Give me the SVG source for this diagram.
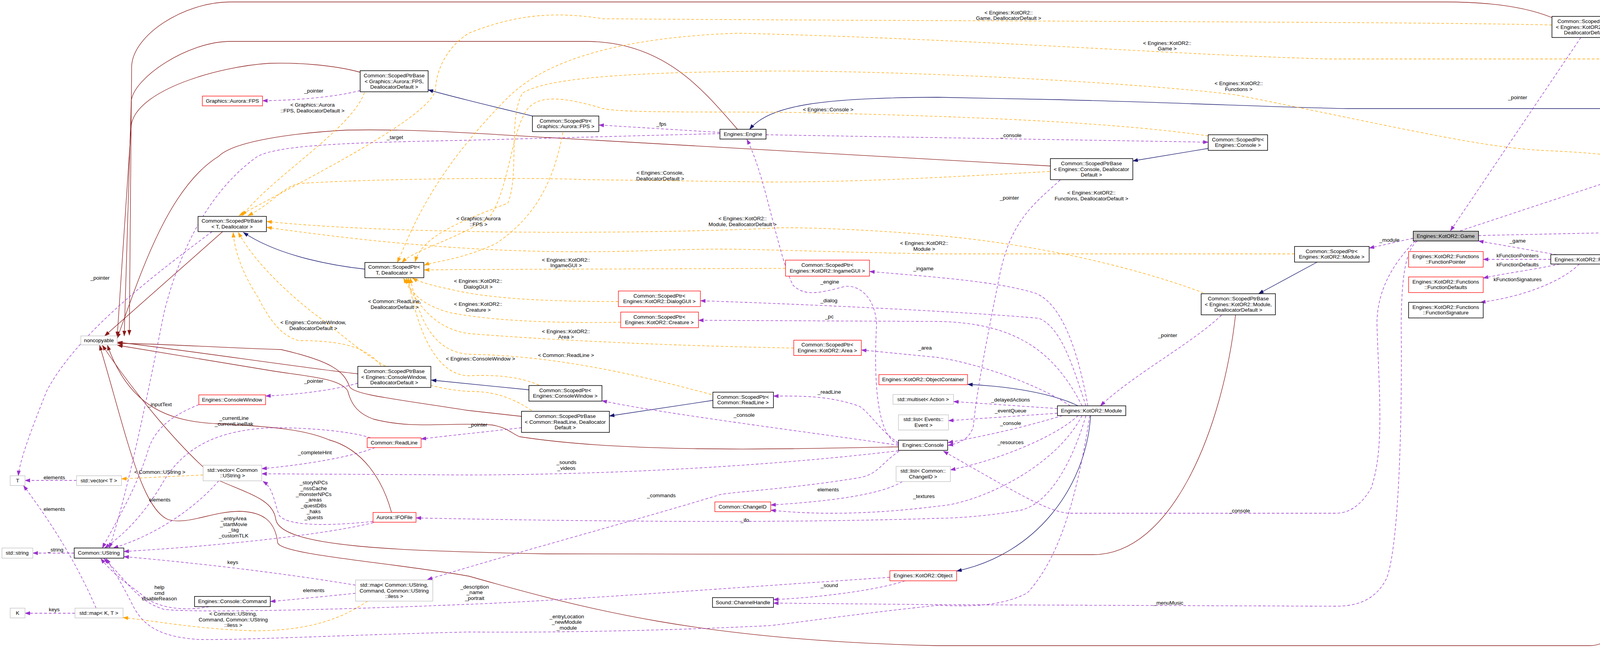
<svg xmlns="http://www.w3.org/2000/svg" width="4792" height="1659" viewBox="0 0 4792 1659">
<style>
text{font-family:"Liberation Sans",Arial,sans-serif;font-size:13.5px;fill:#000;text-anchor:middle}
.b{fill:#fff;stroke:#000;stroke-width:1.5}
.r{fill:#fff;stroke:#ff0000;stroke-width:1.3}
.g{fill:#fff;stroke:#bfbfbf;stroke-width:1.3}
.sel{fill:#bfbfbf;stroke:#000;stroke-width:1.5}
.e{fill:none;stroke-width:1.3}
.p{stroke:#9a32cd;stroke-dasharray:7,5;marker-end:url(#mp)}
.o{stroke:#ffa500;stroke-dasharray:7,5;marker-end:url(#mo)}
.n{stroke:#191970;marker-end:url(#mn)}
.d{stroke:#8b1a1a;marker-end:url(#md)}
</style>
<defs>
<marker id="mp" markerWidth="14" markerHeight="10" refX="13" refY="5" orient="auto" markerUnits="userSpaceOnUse"><path d="M0,0L14,5L0,10z" fill="#9a32cd"/></marker>
<marker id="mo" markerWidth="14" markerHeight="10" refX="13" refY="5" orient="auto" markerUnits="userSpaceOnUse"><path d="M0,0L14,5L0,10z" fill="#ffa500"/></marker>
<marker id="mn" markerWidth="14" markerHeight="10" refX="13" refY="5" orient="auto" markerUnits="userSpaceOnUse"><path d="M0,0L14,5L0,10z" fill="#191970"/></marker>
<marker id="md" markerWidth="14" markerHeight="10" refX="13" refY="5" orient="auto" markerUnits="userSpaceOnUse"><path d="M0,0L14,5L0,10z" fill="#8b1a1a"/></marker>
</defs>
<rect width="4792" height="1659" fill="#fff"/>
<g id="connectors">
<!-- inheritance navy -->
<path class="e n" d="M1363,297 C1250,270 1150,245 1096,230"/>
<path class="e n" d="M934,689 C870,682 720,660 623,595"/>
<path class="e n" d="M1354,998 L1104,973"/>
<path class="e n" d="M1825,1025 L1560,1065"/>
<path class="e n" d="M3093,380 L2900,412"/>
<path class="e n" d="M3372,671 L3222,752"/>
<path class="e n" d="M4300,131 L4157,95"/>
<path class="e n" d="M4597,603 L4481,632"/>
<path class="e n" d="M4573,278 L3450,278 C3300,276 3000,262 2700,255 L2400,249 C2100,250 1970,270 1919,331"/>
<path class="e n" d="M2760,1039 C2700,1010 2600,990 2477,984"/>
<path class="e n" d="M2792,1064 C2780,1250 2650,1420 2449,1462"/>
<!-- inheritance dark red to noncopyable -->
<path class="e d" d="M3973,45 C3900,15 3800,5 3700,5 L590,5 C470,5 340,90 337,170 L331,858"/>
<path class="e d" d="M1888,331 C1800,230 1700,106 1500,106 L590,106 C480,106 340,200 336,260 L318,860"/>
<path class="e d" d="M922,185 C850,165 750,160 690,162 C560,170 350,230 336,320 L300,862"/>
<path class="e d" d="M2689,425 L1400,352 C1200,340 1050,330 888,333 C760,340 600,360 560,400 C430,480 360,700 300,866"/>
<path class="e d" d="M570,593 L268,860"/>
<path class="e d" d="M916,957 C800,945 500,900 301,876"/>
<path class="e d" d="M1335,1066 L1200,1051 C1000,1020 905,1010 895,990 C880,950 850,925 720,895 C560,890 420,880 301,879"/>
<path class="e d" d="M2300,1144 C2000,1150 1600,1160 1330,1118 C1310,1110 1300,1095 1260,1088 C1150,1080 1060,1100 956,1073 C920,1060 900,1040 890,1000 C870,970 800,965 700,950 C550,925 400,900 301,884"/>
<path class="e d" d="M1002,1311 C980,1230 930,1150 842,1126 C780,1100 700,1092 560,1085 C430,1080 330,1040 275,884"/>
<path class="e d" d="M3163,806 C3130,1100 3000,1420 2798,1420 L1400,1418 C1000,1410 720,1400 706,1330 C700,1280 640,1265 560,1230 C460,1150 340,1000 262,884"/>
<path class="e d" d="M4356,683 C4330,1000 4250,1653 4070,1653 L2400,1653 C1800,1640 1500,1560 1200,1475 C1000,1440 720,1420 711,1390 C705,1340 680,1310 612,1309 C540,1310 480,1345 430,1330 C360,1300 320,1100 255,884"/>
<!-- template instantiation orange -->
<path class="e o" d="M3973,64 C3600,55 2500,55 1544,48 C1400,25 1300,45 1200,85 C1130,130 1115,200 1115,230 C1100,300 800,450 612,552"/>
<path class="e o" d="M4286,151 L3400,151 C3000,140 2500,100 1889,85 C1600,95 1400,150 1300,250 C1100,450 1050,600 1017,672"/>
<path class="e o" d="M4641,563 C4500,470 4300,400 3967,386 C3800,380 3600,330 3165,243 C2900,210 2300,180 1965,182 C1600,185 1400,200 1338,238 C1300,300 1330,450 1300,520 C1200,560 1080,600 1063,670"/>
<path class="e o" d="M3093,348 C2900,320 2600,300 2042,288 C1800,285 1600,290 1544,278 C1450,250 1380,240 1350,280 C1310,330 1300,500 1250,560 C1150,620 1060,640 1029,672"/>
<path class="e o" d="M2687,439 C2400,455 2200,466 1965,466 L1506,460 C1300,452 900,460 765,470 C720,480 700,520 635,552"/>
<path class="e o" d="M933,237 C900,330 700,450 620,552"/>
<path class="e o" d="M1441,339 C1420,450 1380,550 1269,624 C1180,665 1110,670 1086,679"/>
<path class="e o" d="M3081,750 C2950,700 2700,630 2400,603 C2200,585 2000,580 1965,585 C1600,600 1000,600 683,567"/>
<path class="e o" d="M3314,650 L2400,650 C2100,645 1900,636 1812,638 C1600,640 1300,670 683,582"/>
<path class="e o" d="M2011,687 L1200,690 L1086,691"/>
<path class="e o" d="M1583,772 C1400,772 1250,765 1150,740 C1100,730 1070,720 1056,712"/>
<path class="e o" d="M1589,825 C1400,828 1250,820 1150,800 C1080,780 1050,750 1040,712"/>
<path class="e o" d="M2032,891 C1700,885 1400,870 1200,854 C1100,840 1060,760 1033,712"/>
<path class="e o" d="M1380,986 C1320,960 1250,960 1200,962 C1100,960 1060,800 1045,712"/>
<path class="e o" d="M1821,1010 C1600,950 1400,910 1200,907 C1100,900 1070,800 1050,712"/>
<path class="e o" d="M1361,1051 C1300,1010 1250,1002 1200,1002 C1000,990 900,870 800,800 C700,720 640,650 610,595"/>
<path class="e o" d="M975,936 C940,890 880,872 765,872 C720,860 690,820 660,760 C620,700 600,640 597,595"/>
<path class="e o" d="M520,1216 L311,1226"/>
<path class="e o" d="M941,1539 C880,1580 800,1615 650,1615 C500,1610 400,1590 315,1581"/>
<!-- usage purple -->
<path class="e p" d="M922,232 C850,250 750,257 672,258"/>
<path class="e p" d="M543,593 C400,700 200,850 120,1000 C80,1100 50,1180 47,1218"/>
<path class="e p" d="M1843,342 L1200,359 C900,365 720,370 660,400 C560,470 470,600 420,800 C380,1000 330,1250 280,1403"/>
<path class="e p" d="M1843,339 L1533,320"/>
<path class="e p" d="M1961,345 L3093,364"/>
<path class="e p" d="M2714,461 C2650,520 2590,560 2560,700 C2530,850 2500,1000 2492,1090 C2485,1120 2460,1135 2427,1140"/>
<path class="e p" d="M3618,610 C3570,620 3540,628 3505,635"/>
<path class="e p" d="M3127,807 C3050,880 2900,960 2817,1039"/>
<path class="e p" d="M3628,617 C3600,640 3588,700 3587,830 C3590,1100 3580,1400 3550,1480 C3520,1540 3470,1552 3418,1552 L2400,1548 L1980,1544"/>
<path class="e p" d="M3623,617 C3560,680 3525,750 3525,830 C3530,1000 3545,1150 3510,1250 C3480,1300 3450,1314 3418,1314 L2737,1314 C2680,1310 2600,1260 2415,1155"/>
<path class="e p" d="M3738,591 L4641,292"/>
<path class="e p" d="M4047,96 L3713,591"/>
<path class="e p" d="M4650,266 L4435,170"/>
<path class="e p" d="M3785,603 L4581,586"/>
<path class="e p" d="M3985,652 L3785,617"/>
<path class="e p" d="M3970,664 L3797,664"/>
<path class="e p" d="M3993,676 C3930,690 3850,700 3797,712"/>
<path class="e p" d="M4043,676 C4000,720 3900,760 3790,774"/>
<path class="e p" d="M4275,660 L4160,663"/>
<path class="e p" d="M2785,1039 C2760,900 2720,780 2652,751 C2550,720 2400,710 2226,695"/>
<path class="e p" d="M2780,1039 C2750,950 2720,840 2660,815 C2500,800 2100,780 1793,770"/>
<path class="e p" d="M2770,1039 C2700,900 2600,826 2400,823 L1788,820"/>
<path class="e p" d="M2740,1039 C2650,980 2500,930 2400,915 L2205,896"/>
<path class="e p" d="M2300,1137 C2250,1120 2235,1000 2244,830 C2240,760 2200,730 2164,733 C2100,750 2060,760 2030,730 C1990,650 1960,450 1912,357"/>
<path class="e p" d="M2300,1134 C2250,1100 2230,1060 2200,1040 C2120,1012 2050,1014 1980,1014"/>
<path class="e p" d="M2300,1140 C2100,1110 1700,1060 1541,1026"/>
<path class="e p" d="M2300,1154 C2000,1190 1600,1215 1200,1216 L670,1213"/>
<path class="e p" d="M2302,1155 C2250,1190 2250,1215 2194,1224 C2000,1255 1850,1260 1835,1269 C1600,1340 1300,1420 1094,1484"/>
<path class="e p" d="M2310,1233 C2250,1270 2100,1285 1973,1293"/>
<path class="e p" d="M2770,1064 C2700,1200 2500,1290 2400,1296 C2250,1315 2100,1320 1973,1306"/>
<path class="e p" d="M2780,1064 C2740,1200 2680,1290 2614,1306 C2500,1327 2400,1327 2400,1327 C2000,1340 1500,1335 1065,1326"/>
<path class="e p" d="M2760,1064 C2700,1120 2550,1180 2433,1203"/>
<path class="e p" d="M2720,1064 C2600,1100 2500,1120 2427,1133"/>
<path class="e p" d="M2707,1058 L2428,1077"/>
<path class="e p" d="M2707,1046 L2441,1028"/>
<path class="e p" d="M2317,1487 C2250,1510 2100,1530 1980,1535"/>
<path class="e p" d="M2278,1478 C1800,1510 1400,1540 1200,1547 C900,1560 500,1570 420,1560 C350,1540 320,1480 266,1430"/>
<path class="e p" d="M2790,1064 C2760,1250 2720,1420 2630,1518 C2550,1560 2450,1550 2400,1550 C2200,1570 2000,1600 1965,1602 C1700,1615 1400,1620 1200,1618 C900,1625 600,1640 505,1637 C420,1630 370,1610 340,1550 C310,1490 290,1460 272,1430"/>
<path class="e p" d="M955,1335 C860,1345 740,1350 715,1320 C700,1280 700,1250 673,1232"/>
<path class="e p" d="M956,1338 C850,1365 600,1395 317,1412"/>
<path class="e p" d="M960,1146 C900,1170 780,1190 670,1200"/>
<path class="e p" d="M949,1121 C900,1105 800,1095 700,1095 C550,1100 470,1150 420,1230 C380,1300 330,1360 268,1403"/>
<path class="e p" d="M509,1036 C450,1060 400,1090 380,1150 C350,1250 300,1330 262,1403"/>
<path class="e p" d="M916,981 C850,1000 760,1010 680,1014"/>
<path class="e p" d="M1335,1095 C1250,1105 1150,1115 1078,1124"/>
<path class="e p" d="M560,1231 C500,1300 400,1370 290,1403"/>
<path class="e p" d="M196,1230 L64,1230"/>
<path class="e p" d="M246,1557 C200,1450 140,1350 60,1243"/>
<path class="e p" d="M192,1570 L64,1570"/>
<path class="e p" d="M190,1416 L84,1416"/>
<path class="e p" d="M910,1498 C800,1480 600,1450 317,1425"/>
<path class="e p" d="M910,1519 C850,1525 750,1535 692,1540"/>
<path class="e p" d="M535,1553 C480,1565 400,1560 360,1520 C320,1490 290,1470 258,1430"/>
</g>
<g id="labels">
<text x="803" y="237">_pointer</text>
<text x="800" y="273">&lt; Graphics::Aurora</text><text x="800" y="288">::FPS, DeallocatorDefault &gt;</text>
<text x="1011" y="356">_target</text>
<text x="256" y="716">_pointer</text>
<text x="1010" y="776">&lt; Common::ReadLine,</text><text x="1010" y="791">DeallocatorDefault &gt;</text>
<text x="802" y="830">&lt; Engines::ConsoleWindow,</text><text x="802" y="845">DeallocatorDefault &gt;</text>
<text x="803" y="980">_pointer</text>
<text x="409" y="1040">_inputText</text>
<text x="599" y="1075">_currentLine</text><text x="599" y="1090">_currentLineBak</text>
<text x="806" y="1163">_completeHint</text>
<text x="409" y="1213">&lt; Common::UString &gt;</text>
<text x="139" y="1227">elements</text>
<text x="409" y="1284">elements</text>
<text x="139" y="1308">elements</text>
<text x="803" y="1240">_storyNPCs</text><text x="803" y="1255">_nssCache</text><text x="803" y="1270">_monsterNPCs</text><text x="803" y="1284">_areas</text><text x="803" y="1299">_questDBs</text><text x="803" y="1314">_haks</text><text x="803" y="1329">_quests</text>
<text x="598" y="1332">_entryArea</text><text x="598" y="1347">_startMovie</text><text x="598" y="1361">_tag</text><text x="598" y="1376">_customTLK</text>
<text x="142" y="1412">_string</text>
<text x="596" y="1444">keys</text>
<text x="408" y="1508">help</text><text x="408" y="1523">cmd</text><text x="408" y="1537">disableReason</text>
<text x="803" y="1516">elements</text>
<text x="139" y="1565">keys</text>
<text x="597" y="1576">&lt; Common::UString,</text><text x="597" y="1591">Command, Common::UString</text><text x="597" y="1605">::iless &gt;</text>
<text x="2120" y="285">&lt; Engines::Console &gt;</text>
<text x="1693" y="322">_fps</text>
<text x="1690" y="447">&lt; Engines::Console,</text><text x="1690" y="462">DeallocatorDefault &gt;</text>
<text x="1225" y="564">&lt; Graphics::Aurora</text><text x="1225" y="579">::FPS &gt;</text>
<text x="1901" y="564">&lt; Engines::KotOR2::</text><text x="1901" y="579">Module, DeallocatorDefault &gt;</text>
<text x="2366" y="627">&lt; Engines::KotOR2::</text><text x="2366" y="642">Module &gt;</text>
<text x="1449" y="670">&lt; Engines::KotOR2::</text><text x="1449" y="684">IngameGUI &gt;</text>
<text x="1224" y="724">&lt; Engines::KotOR2::</text><text x="1224" y="739">DialogGUI &gt;</text>
<text x="1224" y="783">&lt; Engines::KotOR2::</text><text x="1224" y="798">Creature &gt;</text>
<text x="2124" y="726">_engine</text>
<text x="2364" y="692">_ingame</text>
<text x="2122" y="774">_dialog</text>
<text x="2123" y="815">_pc</text>
<text x="1449" y="853">&lt; Engines::KotOR2::</text><text x="1449" y="867">Area &gt;</text>
<text x="1449" y="914">&lt; Common::ReadLine &gt;</text>
<text x="1230" y="923">&lt; Engines::ConsoleWindow &gt;</text>
<text x="2368" y="895">_area</text>
<text x="2123" y="1008">_readLine</text>
<text x="1905" y="1067">_console</text>
<text x="1223" y="1092">_pointer</text>
<text x="1450" y="1188">_sounds</text><text x="1450" y="1203">_videos</text>
<text x="1693" y="1273">_commands</text>
<text x="2120" y="1258">elements</text>
<text x="2365" y="1275">_textures</text>
<text x="1907" y="1336">_ifo</text>
<text x="1215" y="1507">_description</text><text x="1215" y="1521">_name</text><text x="1215" y="1536">_portrait</text>
<text x="2123" y="1503">_sound</text>
<text x="1451" y="1583">_entryLocation</text><text x="1451" y="1597">_newModule</text><text x="1451" y="1612">_module</text>
<text x="2582" y="37">&lt; Engines::KotOR2::</text><text x="2582" y="51">Game, DeallocatorDefault &gt;</text>
<text x="2988" y="115">&lt; Engines::KotOR2::</text><text x="2988" y="129">Game &gt;</text>
<text x="3171" y="218">&lt; Engines::KotOR2::</text><text x="3171" y="233">Functions &gt;</text>
<text x="2588" y="351">_console</text>
<text x="2584" y="511">_pointer</text>
<text x="2794" y="498">&lt; Engines::KotOR2::</text><text x="2794" y="513">Functions, DeallocatorDefault &gt;</text>
<text x="3557" y="619">_module</text>
<text x="2989" y="863">_pointer</text>
<text x="2587" y="1028">_delayedActions</text>
<text x="2587" y="1056">_eventQueue</text>
<text x="2587" y="1088">_console</text>
<text x="2587" y="1137">_resources</text>
<text x="3173" y="1312">_console</text>
<text x="2991" y="1548">_menuMusic</text>
<text x="3885" y="254">_pointer</text>
<text x="4532" y="204">_game</text>
<text x="4220" y="420">_engine</text>
<text x="4220" y="588">_functions</text>
<text x="3885" y="621">_game</text>
<text x="3885" y="659">kFunctionPointers</text>
<text x="3885" y="682">kFunctionDefaults</text>
<text x="3885" y="720">kFunctionSignatures</text>
<text x="4220" y="657">_pointer</text>
</g>
<g id="n_spb_fps"><rect class="b" x="922" y="181" width="174" height="54"/><text x="1009" y="198">Common::ScopedPtrBase</text><text x="1009" y="213">&lt; Graphics::Aurora::FPS,</text><text x="1009" y="227">DeallocatorDefault &gt;</text></g>
<g id="n_fps"><rect class="r" x="518" y="246" width="154" height="25"/><text x="595" y="263">Graphics::Aurora::FPS</text></g>
<g id="n_spb_t"><rect class="b" x="507" y="554" width="175" height="39"/><text x="594" y="570">Common::ScopedPtrBase</text><text x="594" y="585">&lt; T, Deallocator &gt;</text></g>
<g id="n_sp_t"><rect class="b" x="934" y="672" width="151" height="39"/><text x="1009" y="688">Common::ScopedPtr&lt;</text><text x="1009" y="703">T, Deallocator &gt;</text></g>
<g id="n_noncopyable"><rect class="g" x="207" y="860" width="93" height="23"/><text x="253" y="876">noncopyable</text></g>
<g id="n_spb_cw"><rect class="b" x="916" y="938" width="187" height="54"/><text x="1009" y="955">Common::ScopedPtrBase</text><text x="1009" y="970">&lt; Engines::ConsoleWindow,</text><text x="1009" y="984">DeallocatorDefault &gt;</text></g>
<g id="n_cw"><rect class="r" x="509" y="1011" width="171" height="25"/><text x="594" y="1028">Engines::ConsoleWindow</text></g>
<g id="n_readline"><rect class="r" x="940" y="1121" width="138" height="25"/><text x="1009" y="1138">Common::ReadLine</text></g>
<g id="n_vec_ustr"><rect class="g" x="520" y="1191" width="150" height="40"/><text x="595" y="1208">std::vector&lt; Common</text><text x="595" y="1222">::UString &gt;</text></g>
<g id="n_T"><rect class="g" x="26" y="1218" width="38" height="25"/><text x="45" y="1235">T</text></g>
<g id="n_vec_T"><rect class="g" x="196" y="1218" width="115" height="25"/><text x="253" y="1235">std::vector&lt; T &gt;</text></g>
<g id="n_ifo"><rect class="r" x="955" y="1312" width="110" height="25"/><text x="1010" y="1329">Aurora::IFOFile</text></g>
<g id="n_string"><rect class="g" x="5" y="1403" width="79" height="26"/><text x="44" y="1420">std::string</text></g>
<g id="n_ustring"><rect class="b" x="190" y="1403" width="127" height="26"/><text x="253" y="1420">Common::UString</text></g>
<g id="n_map_cmd"><rect class="g" x="910" y="1485" width="198" height="54"/><text x="1009" y="1502">std::map&lt; Common::UString,</text><text x="1009" y="1517">Command, Common::UString</text><text x="1009" y="1531">::iless &gt;</text></g>
<g id="n_command"><rect class="b" x="498" y="1527" width="194" height="26"/><text x="595" y="1544">Engines::Console::Command</text></g>
<g id="n_K"><rect class="g" x="26" y="1557" width="38" height="25"/><text x="45" y="1574">K</text></g>
<g id="n_map_KT"><rect class="g" x="192" y="1557" width="123" height="25"/><text x="253" y="1574">std::map&lt; K, T &gt;</text></g>
<g id="n_sp_fps"><rect class="b" x="1363" y="297" width="170" height="40"/><text x="1448" y="314">Common::ScopedPtr&lt;</text><text x="1448" y="328">Graphics::Aurora::FPS &gt;</text></g>
<g id="n_engine"><rect class="b" x="1843" y="331" width="118" height="25"/><text x="1902" y="348">Engines::Engine</text></g>
<g id="n_sp_ingame"><rect class="r" x="2011" y="666" width="215" height="41"/><text x="2118" y="683">Common::ScopedPtr&lt;</text><text x="2118" y="698">Engines::KotOR2::IngameGUI &gt;</text></g>
<g id="n_sp_dialog"><rect class="r" x="1583" y="745" width="210" height="40"/><text x="1688" y="762">Common::ScopedPtr&lt;</text><text x="1688" y="776">Engines::KotOR2::DialogGUI &gt;</text></g>
<g id="n_sp_creature"><rect class="r" x="1589" y="799" width="199" height="40"/><text x="1688" y="816">Common::ScopedPtr&lt;</text><text x="1688" y="830">Engines::KotOR2::Creature &gt;</text></g>
<g id="n_sp_area"><rect class="r" x="2032" y="871" width="173" height="39"/><text x="2118" y="887">Common::ScopedPtr&lt;</text><text x="2118" y="902">Engines::KotOR2::Area &gt;</text></g>
<g id="n_sp_cw"><rect class="b" x="1354" y="987" width="187" height="40"/><text x="1447" y="1004">Common::ScopedPtr&lt;</text><text x="1447" y="1018">Engines::ConsoleWindow &gt;</text></g>
<g id="n_spb_rl"><rect class="b" x="1335" y="1053" width="225" height="54"/><text x="1447" y="1070">Common::ScopedPtrBase</text><text x="1447" y="1085">&lt; Common::ReadLine, Deallocator</text><text x="1447" y="1099">Default &gt;</text></g>
<g id="n_sp_rl"><rect class="b" x="1825" y="1004" width="155" height="40"/><text x="1902" y="1021">Common::ScopedPtr&lt;</text><text x="1902" y="1035">Common::ReadLine &gt;</text></g>
<g id="n_objcont"><rect class="r" x="2250" y="959" width="227" height="26"/><text x="2363" y="976">Engines::KotOR2::ObjectContainer</text></g>
<g id="n_multiset"><rect class="g" x="2286" y="1010" width="155" height="25"/><text x="2363" y="1027">std::multiset&lt; Action &gt;</text></g>
<g id="n_list_event"><rect class="g" x="2300" y="1062" width="128" height="39"/><text x="2364" y="1078">std::list&lt; Events::</text><text x="2364" y="1093">Event &gt;</text></g>
<g id="n_console"><rect class="b" x="2300" y="1127" width="126" height="26"/><text x="2363" y="1144">Engines::Console</text></g>
<g id="n_list_cid"><rect class="g" x="2294" y="1194" width="139" height="39"/><text x="2363" y="1210">std::list&lt; Common::</text><text x="2363" y="1225">ChangeID &gt;</text></g>
<g id="n_changeid"><rect class="r" x="1830" y="1285" width="143" height="25"/><text x="1901" y="1302">Common::ChangeID</text></g>
<g id="n_object"><rect class="r" x="2278" y="1461" width="171" height="26"/><text x="2363" y="1478">Engines::KotOR2::Object</text></g>
<g id="n_channel"><rect class="b" x="1824" y="1530" width="156" height="25"/><text x="1902" y="1547">Sound::ChannelHandle</text></g>
<g id="n_sp_console"><rect class="b" x="3093" y="345" width="152" height="40"/><text x="3169" y="362">Common::ScopedPtr&lt;</text><text x="3169" y="376">Engines::Console &gt;</text></g>
<g id="n_spb_console"><rect class="b" x="2689" y="406" width="211" height="54"/><text x="2794" y="423">Common::ScopedPtrBase</text><text x="2794" y="438">&lt; Engines::Console, Deallocator</text><text x="2794" y="452">Default &gt;</text></g>
<g id="n_sp_module"><rect class="b" x="3314" y="631" width="191" height="40"/><text x="3409" y="648">Common::ScopedPtr&lt;</text><text x="3409" y="662">Engines::KotOR2::Module &gt;</text></g>
<g id="n_spb_module"><rect class="b" x="3075" y="752" width="190" height="54"/><text x="3170" y="769">Common::ScopedPtrBase</text><text x="3170" y="784">&lt; Engines::KotOR2::Module,</text><text x="3170" y="798">DeallocatorDefault &gt;</text></g>
<g id="n_module"><rect class="b" x="2707" y="1039" width="175" height="25"/><text x="2794" y="1056">Engines::KotOR2::Module</text></g>
<g id="n_spb_game"><rect class="b" x="3973" y="42" width="184" height="54"/><text x="4065" y="59">Common::ScopedPtrBase</text><text x="4065" y="74">&lt; Engines::KotOR2::Game,</text><text x="4065" y="88">DeallocatorDefault &gt;</text></g>
<g id="n_sp_game"><rect class="b" x="4286" y="131" width="184" height="39"/><text x="4378" y="147">Common::ScopedPtr&lt;</text><text x="4378" y="162">Engines::KotOR2::Game &gt;</text></g>
<g id="n_kotor2engine"><rect class="b" x="4573" y="266" width="215" height="25"/><text x="4680" y="283">Engines::KotOR2::KotOR2Engine</text></g>
<g id="n_game"><rect class="sel" x="3618" y="592" width="167" height="25"/><text x="3701" y="609">Engines::KotOR2::Game</text></g>
<g id="n_sp_functions"><rect class="b" x="4581" y="564" width="206" height="39"/><text x="4684" y="580">Common::ScopedPtr&lt;</text><text x="4684" y="595">Engines::KotOR2::Functions &gt;</text></g>
<g id="n_spb_functions"><rect class="b" x="4275" y="629" width="206" height="54"/><text x="4378" y="646">Common::ScopedPtrBase</text><text x="4378" y="661">&lt; Engines::KotOR2::Functions,</text><text x="4378" y="675">DeallocatorDefault &gt;</text></g>
<g id="n_functions"><rect class="b" x="3970" y="652" width="190" height="24"/><text x="4065" y="669">Engines::KotOR2::Functions</text></g>
<g id="n_fp"><rect class="r" x="3606" y="644" width="191" height="40"/><text x="3701" y="661">Engines::KotOR2::Functions</text><text x="3701" y="675">::FunctionPointer</text></g>
<g id="n_fd"><rect class="r" x="3606" y="709" width="191" height="40"/><text x="3701" y="726">Engines::KotOR2::Functions</text><text x="3701" y="740">::FunctionDefaults</text></g>
<g id="n_fs"><rect class="b" x="3606" y="774" width="191" height="40"/><text x="3701" y="791">Engines::KotOR2::Functions</text><text x="3701" y="805">::FunctionSignature</text></g>
</svg>
